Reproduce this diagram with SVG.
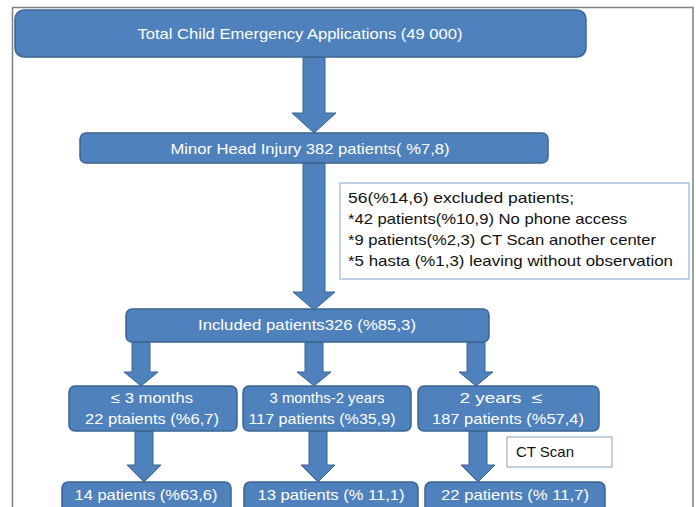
<svg xmlns="http://www.w3.org/2000/svg" width="696" height="507" viewBox="0 0 696 507">
<style>
.box{fill:#4F81BD;stroke:#3A6593;stroke-width:1.5}
.arr{fill:#4F81BD;stroke:#3A6593;stroke-width:1}
.note{fill:#fff;stroke:#95B3D7;stroke-width:1.2}
.t{font-family:"Liberation Sans",Arial,sans-serif;font-size:14.5px;fill:#fff;text-anchor:middle}
.n{font-family:"Liberation Sans",Arial,sans-serif;font-size:14.5px;fill:#111}
</style>
<rect x="0" y="0" width="696" height="507" fill="#fff"/>
<path d="M12.5 520 V7.5 H693 V520" fill="none" stroke="#7f7f7f" stroke-width="1.5"/>
<g id="connectors">
<polygon class="arr" points="303,57 325,57 325,113 336,113 314,133 292,113 303,113"/>
<polygon class="arr" points="303,163 325,163 325,292 335,292 314,310 293,292 303,292"/>
<polygon class="arr" points="132,342 150,342 150,372 158,372 141,386 124,372 132,372"/>
<polygon class="arr" points="305,342 323,342 323,372 331,372 314,386 297,372 305,372"/>
<polygon class="arr" points="467,342 485,342 485,372 493,372 476,386 459,372 467,372"/>
<polygon class="arr" points="135,431 153,431 153,465 161,465 144,482 127,465 135,465"/>
<polygon class="arr" points="309,431 327,431 327,465 335,465 318,482 301,465 309,465"/>
<polygon class="arr" points="469,431 487,431 487,465 495,465 478,482 461,465 469,465"/>
</g>
<g id="total"><rect class="box" x="15" y="10" width="571" height="47" rx="9"/><text class="t" x="300" y="39" textLength="325" lengthAdjust="spacingAndGlyphs">Total Child Emergency Applications (49 000)</text></g>
<g id="minor"><rect class="box" x="80" y="133" width="468" height="30" rx="6"/><text class="t" x="310" y="154" textLength="279" lengthAdjust="spacingAndGlyphs">Minor Head Injury 382 patients( %7,8)</text></g>
<g id="excluded"><rect class="note" x="340" y="183" width="349" height="96"/>
<text class="n" x="348" y="203" textLength="226" lengthAdjust="spacingAndGlyphs">56(%14,6) excluded patients;</text>
<text class="n" x="348" y="224" textLength="279" lengthAdjust="spacingAndGlyphs">*42 patients(%10,9) No phone access</text>
<text class="n" x="348" y="245" textLength="308" lengthAdjust="spacingAndGlyphs">*9 patients(%2,3) CT Scan another center</text>
<text class="n" x="348" y="266" textLength="325" lengthAdjust="spacingAndGlyphs">*5 hasta (%1,3) leaving without observation</text></g>
<g id="included"><rect class="box" x="126" y="309" width="363" height="33" rx="6"/><text class="t" x="307" y="330" textLength="218" lengthAdjust="spacingAndGlyphs">Included patients326 (%85,3)</text></g>
<g id="age1"><rect class="box" x="69" y="386" width="168" height="45" rx="6"/><text class="t" x="152" y="403" textLength="82" lengthAdjust="spacingAndGlyphs">≤ 3 months</text><text class="t" x="152" y="424" textLength="134" lengthAdjust="spacingAndGlyphs">22 ptaients (%6,7)</text></g>
<g id="age2"><rect class="box" x="243" y="386" width="168" height="45" rx="6"/><text class="t" x="327" y="403" font-size="13" textLength="115" lengthAdjust="spacingAndGlyphs">3 months-2 years</text><text class="t" x="322" y="424" font-size="13" textLength="147" lengthAdjust="spacingAndGlyphs">117 patients (%35,9)</text></g>
<g id="age3"><rect class="box" x="418" y="386" width="181" height="45" rx="6"/><text class="t" x="501" y="403" textLength="83" lengthAdjust="spacingAndGlyphs">2 years&#160; ≤</text><text class="t" x="508" y="424" textLength="152" lengthAdjust="spacingAndGlyphs">187 patients (%57,4)</text></g>
<g id="ctscan"><rect class="note" x="507" y="437" width="105" height="30"/><text class="n" x="516" y="457" textLength="58" lengthAdjust="spacingAndGlyphs">CT Scan</text></g>
<g id="out1"><rect class="box" x="62" y="482" width="169" height="32" rx="6"/><text class="t" x="146" y="500" textLength="143" lengthAdjust="spacingAndGlyphs">14 patients (%63,6)</text></g>
<g id="out2"><rect class="box" x="244" y="482" width="174" height="32" rx="6"/><text class="t" x="331" y="500" textLength="147" lengthAdjust="spacingAndGlyphs">13 patients (% 11,1)</text></g>
<g id="out3"><rect class="box" x="425" y="482" width="180" height="32" rx="6"/><text class="t" x="515" y="500" textLength="148" lengthAdjust="spacingAndGlyphs">22 patients (% 11,7)</text></g>
</svg>
